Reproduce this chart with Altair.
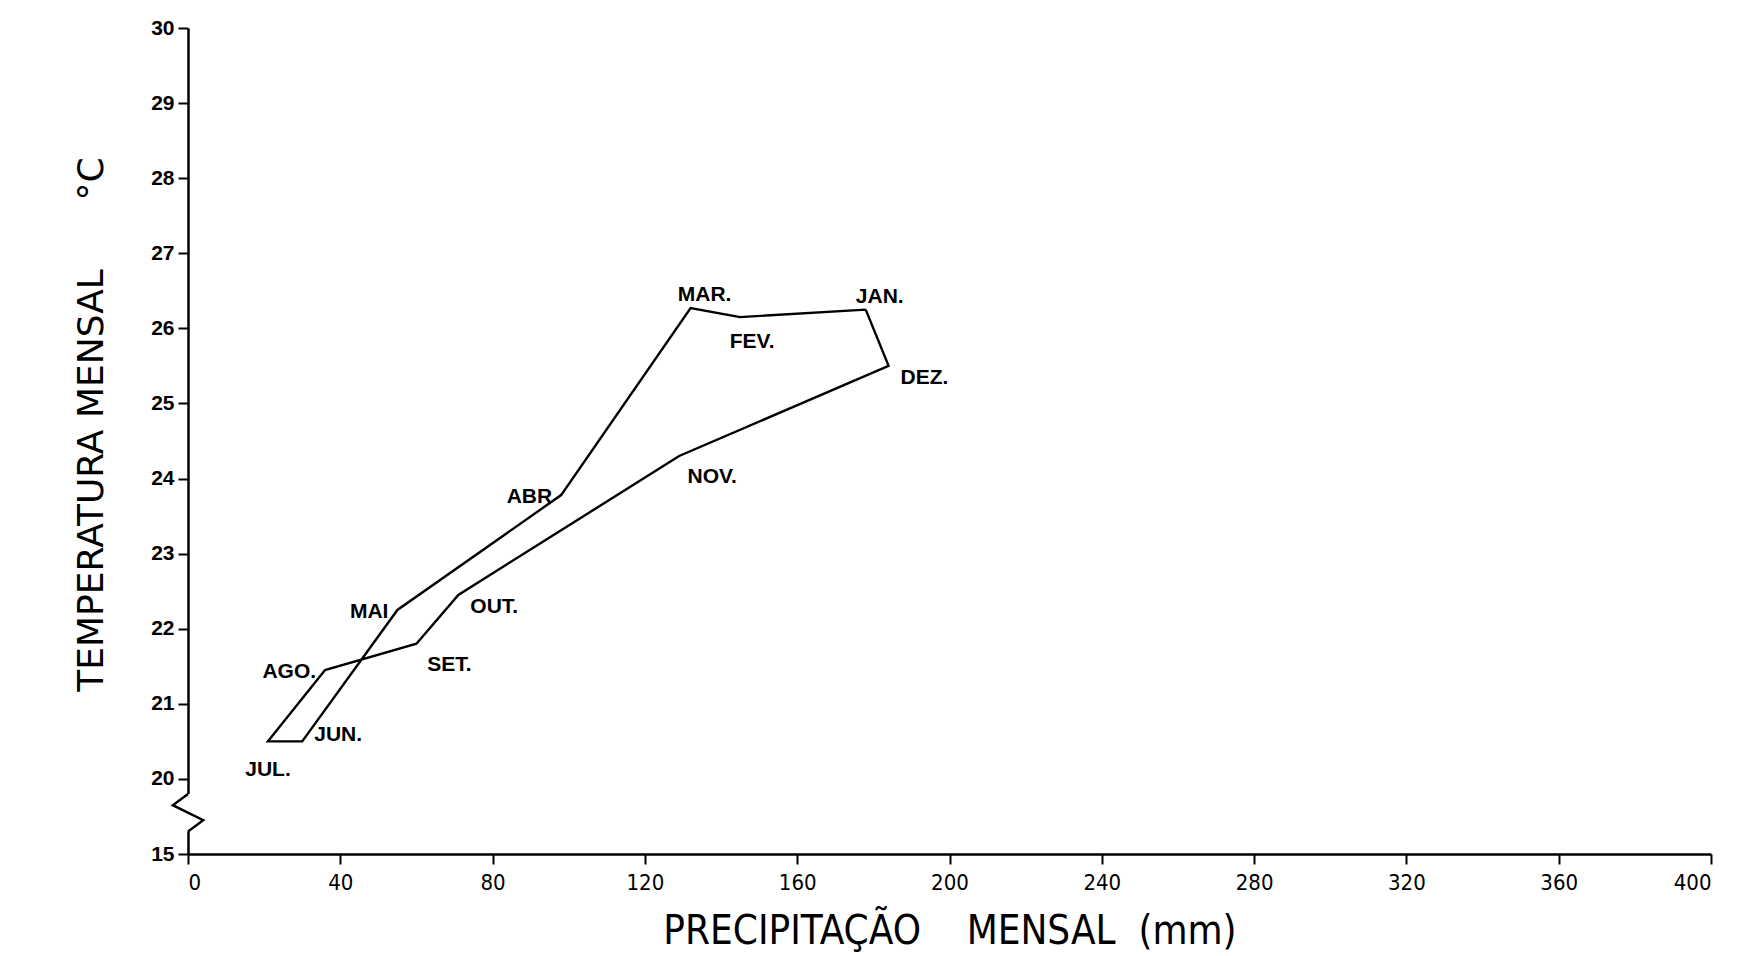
import altair as alt
import pandas as pd

# Monthly climate values
months = ["JAN.", "FEV.", "MAR.", "ABR", "MAI", "JUN.", "JUL.", "AGO.", "SET.", "OUT.", "NOV.", "DEZ."]
precip = [178, 145, 132, 98, 55, 30, 21, 36, 60, 71, 129, 184]
temp = [26.25, 26.15, 26.27, 23.78, 22.25, 20.5, 20.5, 21.45, 21.8, 22.45, 24.3, 25.5]
label_side = ["above", "below", "above", "left", "left", "rightup", "under", "left", "belowright", "right", "belowright", "right"]

x_ticks = [0, 40, 80, 120, 160, 200, 240, 280, 320, 360, 400]
y_ticks = [19, 20, 21, 22, 23, 24, 25, 26, 27, 28, 29, 30]  # 19 stands for the broken "15"

# axis break zigzag (in data units)
break_x = [0, -4, 4, 0]
break_y = [19.8, 19.65, 19.45, 19.3]

n = len(months)
loop = pd.DataFrame({
    "order": list(range(n + 1)),
    "precip": precip + [precip[0]],
    "temp": temp + [temp[0]],
})
pts = pd.DataFrame({"month": months, "precip": precip, "temp": temp, "side": label_side})
brk = pd.DataFrame({"i": list(range(len(break_x))), "bx": break_x, "by": break_y})

NB = "\u00a0"
FONT = "Liberation Sans"
xs = alt.Scale(domain=[0, 400], nice=False, zero=False)
ys = alt.Scale(domain=[19, 30], nice=False, zero=False)

x_title = "PRECIPITAÇÃO" + NB * 4 + "MENSAL" + NB * 2 + "(mm)"
y_title = "TEMPERATURA" + NB + "MENSAL" + NB * 6 + "°C"

x_enc = alt.X("precip:Q", scale=xs, axis=alt.Axis(
    values=x_ticks, title=x_title, grid=False,
    domainColor="black", domainWidth=2.5, tickColor="black", tickWidth=2, tickSize=10,
    labelFont="DejaVu Sans Condensed", labelFontSize=22, labelColor="black", labelPadding=8,
    titleFont="DejaVu Sans Condensed", titleFontSize=40, titleFontWeight="normal",
    titleColor="black", titlePadding=18))
y_enc = alt.Y("temp:Q", scale=ys, axis=alt.Axis(
    values=y_ticks, labelExpr="datum.value == 19 ? '15' : datum.value",
    title=y_title, grid=False, titleY=396,
    domainColor="black", domainWidth=2.5, tickColor="black", tickWidth=2, tickSize=10,
    labelFont=FONT, labelFontSize=21, labelFontWeight="bold", labelColor="black", labelPadding=4,
    titleFont="DejaVu Sans", titleFontSize=36, titleFontWeight="normal",
    titleColor="black", titlePadding=40))

line = alt.Chart(loop).mark_line(color="black", strokeWidth=2.4).encode(
    x=x_enc, y=y_enc, order="order:Q")

mask = alt.Chart(brk).transform_aggregate(lo="min(by)", hi="max(by)").transform_calculate(x0="0").mark_rule(
    color="white", strokeWidth=6).encode(x=alt.X("x0:Q", scale=xs), y=alt.Y("lo:Q", scale=ys), y2="hi:Q")
zig = alt.Chart(brk).mark_line(color="black", strokeWidth=2.4).encode(
    x=alt.X("bx:Q", scale=xs), y=alt.Y("by:Q", scale=ys), order="i:Q")

def lbl(side, align, baseline, dx, dy):
    return alt.Chart(pts).transform_filter(alt.datum.side == side).mark_text(
        font=FONT, fontSize=21, fontWeight="bold", color="black",
        align=align, baseline=baseline, dx=dx, dy=dy).encode(
        x=alt.X("precip:Q", scale=xs), y=alt.Y("temp:Q", scale=ys), text="month:N")

labels = [
    lbl("above", "center", "bottom", 14, -3),
    lbl("below", "center", "top", 12, 14),
    lbl("belowright", "center", "top", 33, 10),
    lbl("left", "right", "middle", -9, 2),
    lbl("right", "left", "middle", 12, 12),
    lbl("rightup", "left", "middle", 12, -6),
    lbl("under", "center", "top", 0, 18),
]

chart = alt.layer(line, mask, zig, *labels).properties(
    width=1523, height=826,
    autosize=alt.AutoSizeParams(type="none"),
    padding={"left": 188, "top": 28, "right": 42, "bottom": 102},
    background="white",
).configure_view(stroke=None)

chart.save("out.html", embed_options={"renderer": "svg", "actions": False})
